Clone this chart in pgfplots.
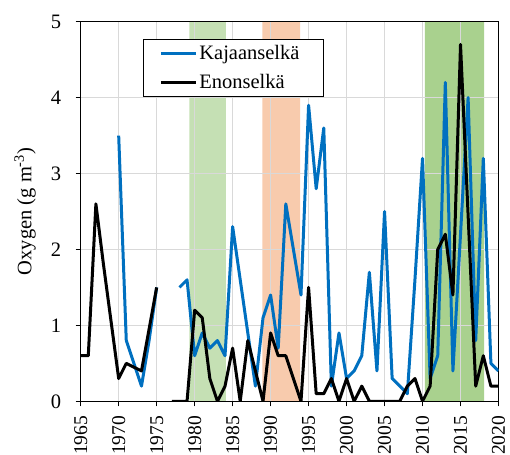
\documentclass[border=0pt]{standalone}
\usepackage{fontspec}
\setmainfont{Liberation Serif}
\usepackage{pgfplots}
\usepackage{pgfplotstable}
\pgfplotsset{compat=1.18}

\definecolor{kaja}{RGB}{0,112,192}
\definecolor{bandA}{RGB}{197,224,180}
\definecolor{bandB}{RGB}{248,203,173}
\definecolor{bandC}{RGB}{169,209,142}
\definecolor{gridgray}{RGB}{217,217,217}

% Hypolimnetic oxygen, annual values (g m^-3); nan = no observation
\pgfplotstableread{
year  kaja   enon
1965  nan    0.6
1966  nan    0.6
1967  nan    2.6
1968  nan    1.8
1969  nan    1.05
1970  3.5    0.3
1971  0.8    0.5
1972  0.5    0.45
1973  0.2    0.4
1974  0.8    0.95
1975  1.5    1.5
1976  nan    nan
1977  nan    0
1978  1.5    0
1979  1.6    0
1980  0.6    1.2
1981  0.9    1.1
1982  0.7    0.3
1983  0.8    0
1984  0.6    0.2
1985  2.3    0.7
1986  1.6    0
1987  0.9    0.8
1988  0.2    0.4
1989  1.1    0
1990  1.4    0.9
1991  0.7    0.6
1992  2.6    0.6
1993  2.0    0.3
1994  1.4    0
1995  3.9    1.5
1996  2.8    0.1
1997  3.6    0.1
1998  0.2    0.3
1999  0.9    0
2000  0.3    0.3
2001  0.4    0
2002  0.6    0.2
2003  1.7    0
2004  0.4    0
2005  2.5    0
2006  0.3    0
2007  0.2    0
2008  0.1    0.2
2009  1.6    0.3
2010  3.2    0
2011  0.3    0.2
2012  0.6    2.0
2013  4.2    2.2
2014  0.4    1.4
2015  2.2    4.7
2016  4.0    2.45
2017  0.8    0.2
2018  3.2    0.6
2019  0.5    0.2
2020  0.4    0.2
}\oxygen

\begin{document}
\begin{tikzpicture}[font=\fontsize{20.5bp}{24bp}\selectfont]
\begin{axis}[
  set layers,
  scale only axis,
  width=417.8bp, height=379.6bp,
  xmin=1965, xmax=2020, ymin=0, ymax=5,
  xtick={1965,1970,...,2020},
  ytick={0,1,...,5},
  grid=major,
  grid style={gridgray, line width=1.3bp},
  axis line style={line width=0.8bp},
  tick style={black, line width=0.8bp},
  tick align=outside, tick pos=left,
  major tick length=5bp,
  x tick label style={rotate=90, anchor=east, font=\fontsize{19.5bp}{22bp}\selectfont},
  xticklabel shift=6bp,
  yticklabel shift=11bp,
  /pgf/number format/assume math mode=true,
  /pgf/number format/1000 sep={},
  ylabel={Oxygen (g m\textsuperscript{-3})},
  ylabel style={at={(axis description cs:-0.133,0.5)}, anchor=center},
  unbounded coords=jump,
  legend cell align=left,
  legend style={at={(axis description cs:0.149,0.954)}, anchor=north west,
    draw=black, line width=0.8bp, fill=white,
    inner xsep=14bp, inner ysep=4bp, row sep=9bp},
  legend image code/.code={\path (-2bp,0bp); \draw[#1] (0bp,0bp) -- (35bp,0bp);},
]
% study periods
\addplot[on layer=axis background, draw=none, fill=bandA, forget plot]
  coordinates {(1979.3,0) (1979.3,5) (1984.1,5) (1984.1,0)} \closedcycle;
\addplot[on layer=axis background, draw=none, fill=bandB, forget plot]
  coordinates {(1988.9,0) (1988.9,5) (1993.9,5) (1993.9,0)} \closedcycle;
\addplot[on layer=axis background, draw=none, fill=bandC, forget plot]
  coordinates {(2010.3,0) (2010.3,5) (2018.1,5) (2018.1,0)} \closedcycle;

\addplot[kaja, line width=3bp, line join=round] table[x=year, y=kaja] {\oxygen};
\addlegendentry{Kajaanselkä\hspace*{8bp}}
\addplot[black, line width=3bp, line join=round] table[x=year, y=enon] {\oxygen};
\addlegendentry{Enonselkä}
\end{axis}
\pgfresetboundingbox
\path (current axis.south west) ++(-80.7bp,-53.7bp) rectangle ++(510bp,455bp);
\end{tikzpicture}
\end{document}
